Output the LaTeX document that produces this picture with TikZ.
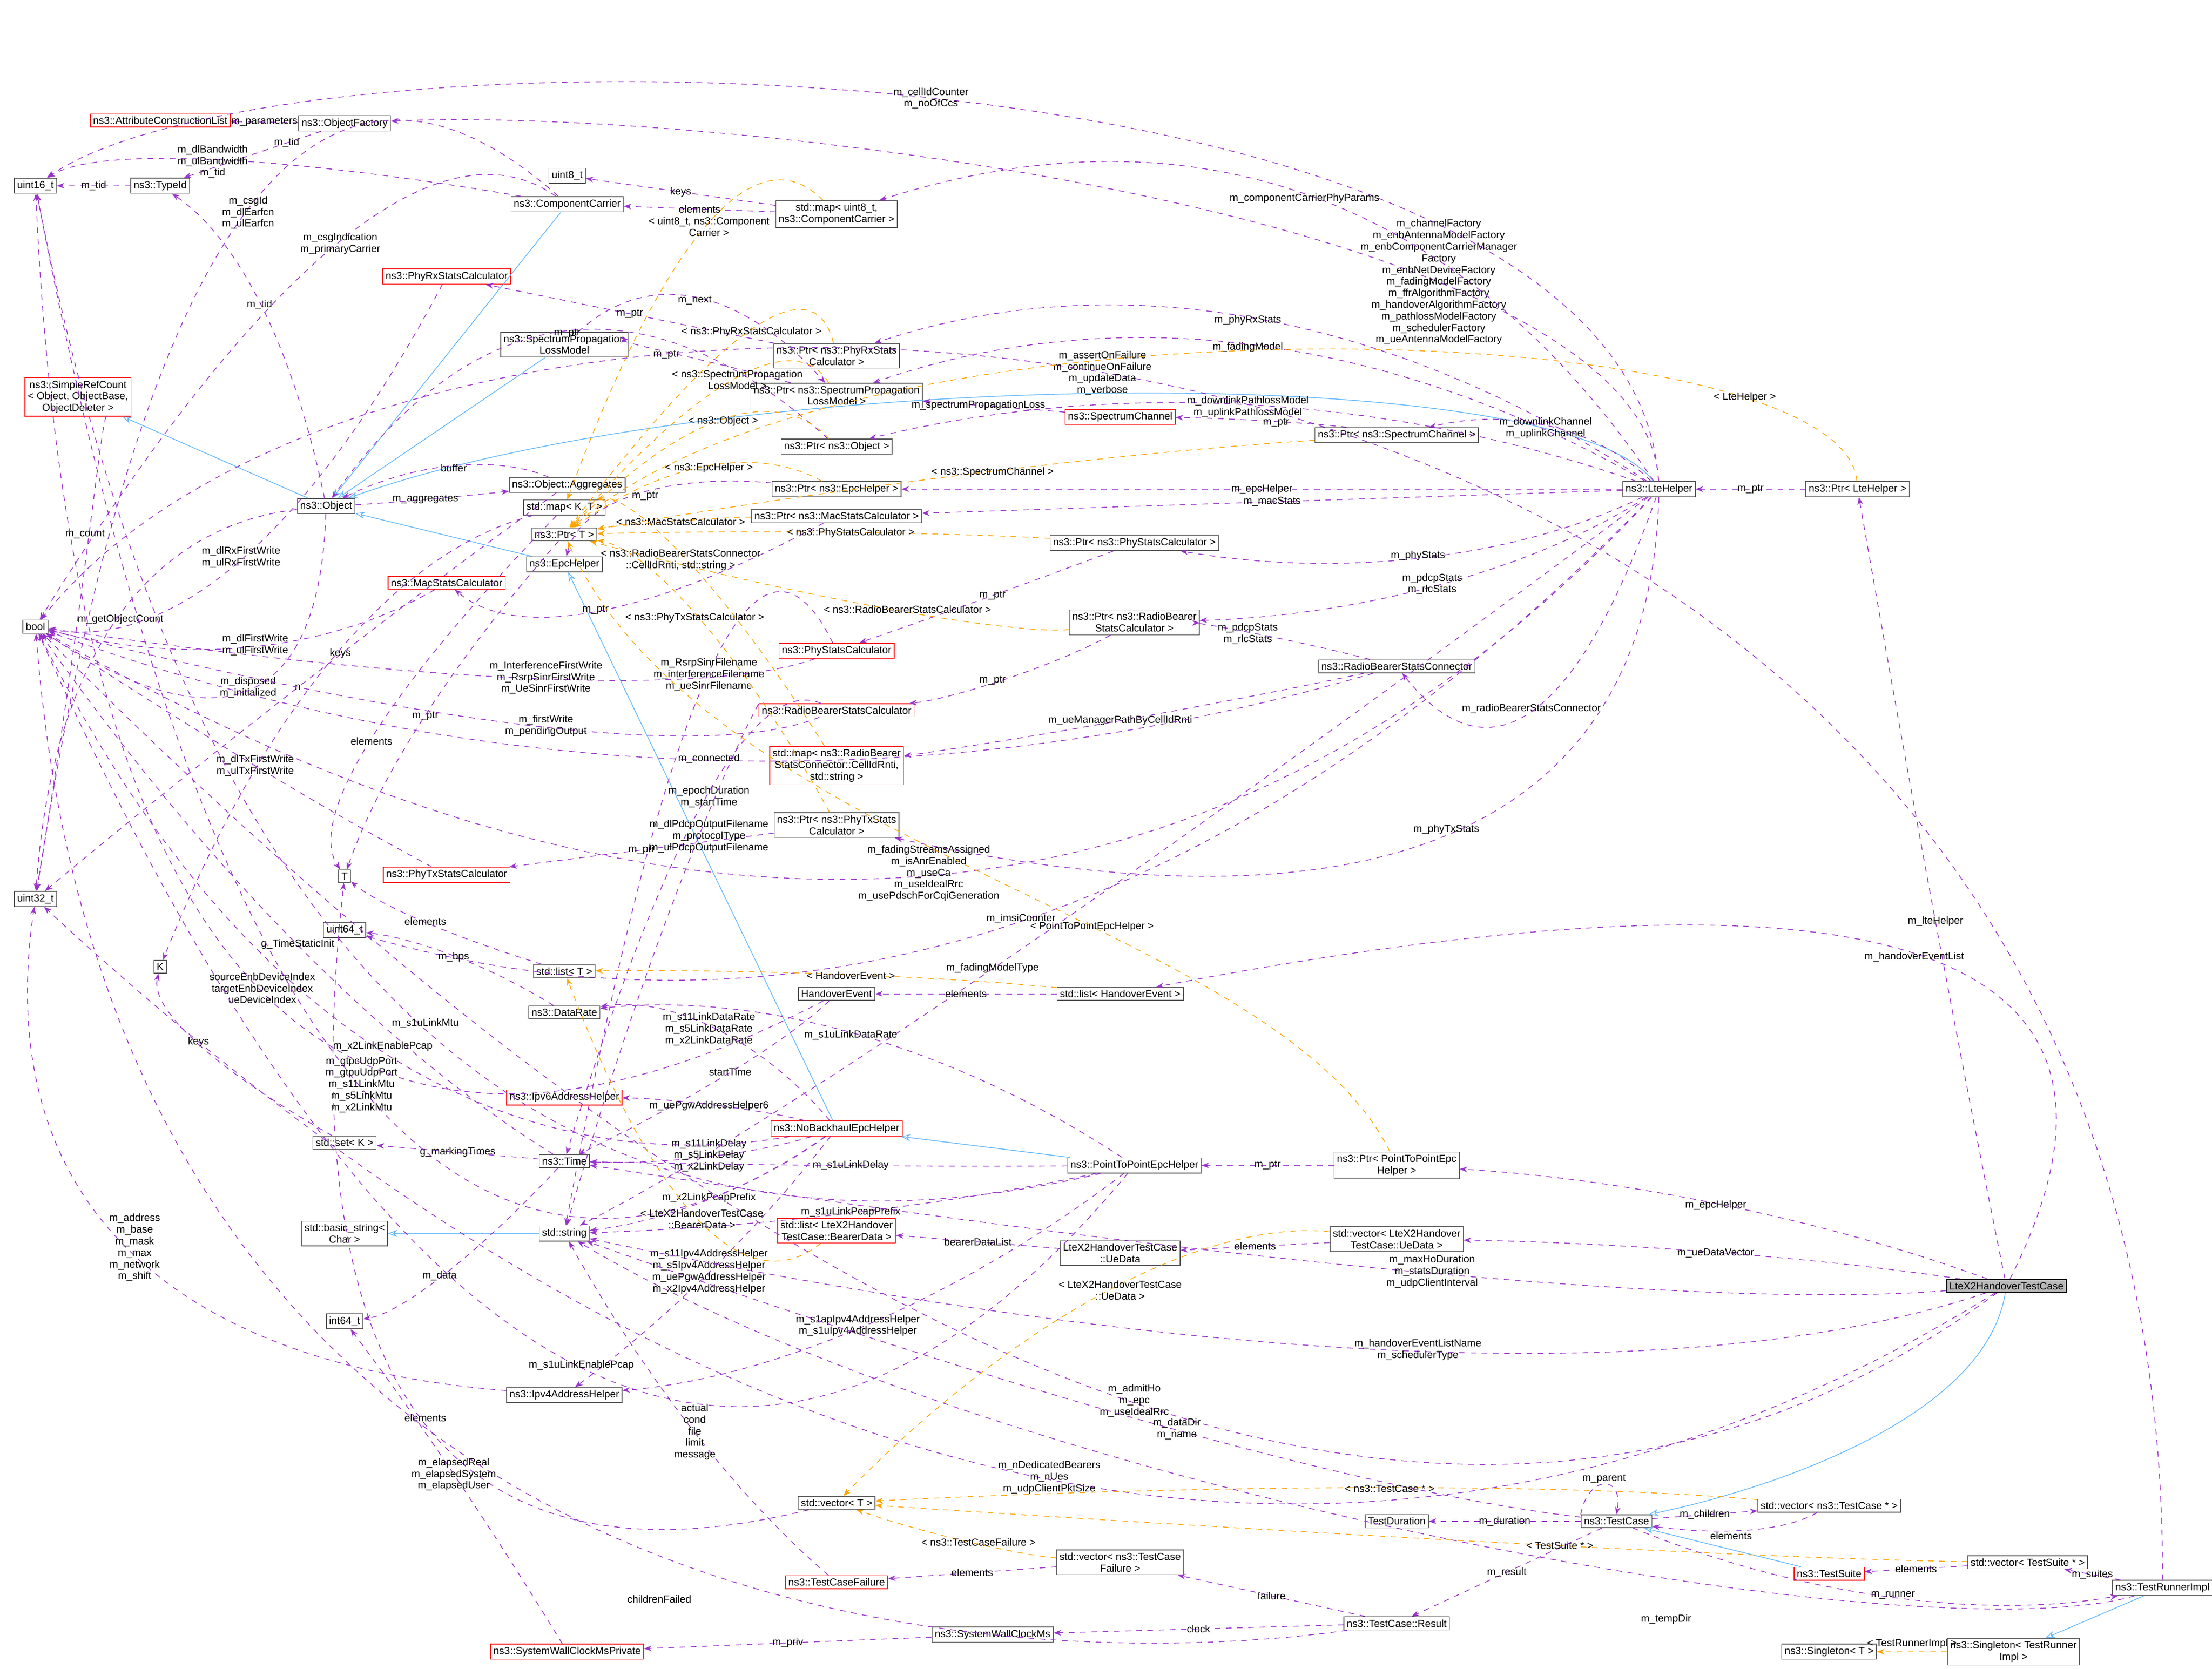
\documentclass[tikz,border=0pt]{standalone}
\usepackage{fontspec}
\setmainfont{Liberation Sans}
\usetikzlibrary{arrows.meta,calc}
\definecolor{usecol}{HTML}{9A32CD}
\definecolor{tplcol}{HTML}{FFA500}
\definecolor{inhcol}{HTML}{63B8FF}
\tikzset{
  cls/.style={draw=gray!70!black, rectangle, fill=white, inner sep=1.5pt, align=center, font=\fontsize{5.5}{6.2}\selectfont},
  redcls/.style={cls, draw=red},
  curcls/.style={cls, fill=gray!55, draw=black},
  use/.style={draw=usecol, dashed, -{Stealth[length=4pt]}},
  tpl/.style={draw=tplcol, dashed, -{Stealth[length=4pt]}},
  inh/.style={draw=inhcol, -{Stealth[length=5pt,open]}},
  lbl/.style={font=\fontsize{5.5}{6.2}\selectfont, align=center, inner sep=0.5pt, text=black}
}
\newcommand{\usel}[3]{\draw[use] (#1) -- node[lbl,midway] {#3} (#2);}
% edge bent through a given label point
\newcommand{\usec}[4]{\draw[use] (#1) .. controls ($1.3333*(#3)-0.3333*(#2)$) and ($1.3333*(#3)-0.3333*(#1)$) .. (#2); \node[lbl] at (#3) {#4};}
\newcommand{\tpll}[3]{\draw[tpl] (#1) -- node[lbl,midway] {#3} (#2);}
\newcommand{\tplc}[4]{\draw[tpl] (#1) .. controls ($1.3333*(#3)-0.3333*(#2)$) and ($1.3333*(#3)-0.3333*(#1)$) .. (#2); \node[lbl] at (#3) {#4};}
\begin{document}
\begin{tikzpicture}[x=0.02667cm, y=-0.02667cm]
  \useasboundingbox[fill=white] (0,0) rectangle (1560,1177);
  % classes
  \node[cls] (u16) at (25,131) {uint16\_t};
  \node[cls] (typeid) at (113,131) {ns3::TypeId};
  \node[redcls] (acl) at (113,85) {ns3::AttributeConstructionList};
  \node[cls] (objfac) at (243,87) {ns3::ObjectFactory};
  \node[cls] (u8) at (400,124) {uint8\_t};
  \node[cls] (cc) at (400,144) {ns3::ComponentCarrier};
  \node[cls] (mapcc) at (590,151) {std::map\textless{} uint8\_t,\\ ns3::ComponentCarrier \textgreater};
  \node[redcls] (phyrx) at (315,195) {ns3::PhyRxStatsCalculator};
  \node[cls] (splm) at (398,243) {ns3::SpectrumPropagation\\LossModel};
  \node[cls] (ptrphyrx) at (590,251) {ns3::Ptr\textless{} ns3::PhyRxStats\\Calculator \textgreater};
  \node[cls] (ptrsplm) at (590,279) {ns3::Ptr\textless{} ns3::SpectrumPropagation\\LossModel \textgreater};
  \node[redcls] (spch) at (790,294) {ns3::SpectrumChannel};
  \node[cls] (ptrobj) at (590,315) {ns3::Ptr\textless{} ns3::Object \textgreater};
  \node[cls] (ptrspch) at (985,307) {ns3::Ptr\textless{} ns3::SpectrumChannel \textgreater};
  \node[redcls] (src) at (55,280) {ns3::SimpleRefCount\\\textless{} Object, ObjectBase,\\ ObjectDeleter \textgreater};
  \node[cls] (obj) at (230,357) {ns3::Object};
  \node[cls] (aggr) at (400,342) {ns3::Object::Aggregates};
  \node[cls] (mapkt) at (398,358) {std::map\textless{} K, T \textgreater};
  \node[cls] (ptrt) at (398,377) {ns3::Ptr\textless{} T \textgreater};
  \node[cls] (epc) at (398,398) {ns3::EpcHelper};
  \node[cls] (ptrepc) at (590,345) {ns3::Ptr\textless{} ns3::EpcHelper \textgreater};
  \node[cls] (ptrmac) at (590,364) {ns3::Ptr\textless{} ns3::MacStatsCalculator \textgreater};
  \node[cls] (ptrphys) at (800,383) {ns3::Ptr\textless{} ns3::PhyStatsCalculator \textgreater};
  \node[cls] (lte) at (1170,345) {ns3::LteHelper};
  \node[cls] (ptrlte) at (1310,345) {ns3::Ptr\textless{} LteHelper \textgreater};
  \node[redcls] (mac) at (315,411) {ns3::MacStatsCalculator};
  \node[cls] (ptrrbs) at (800,439) {ns3::Ptr\textless{} ns3::RadioBearer\\StatsCalculator \textgreater};
  \node[cls] (rbscon) at (985,470) {ns3::RadioBearerStatsConnector};
  \node[redcls] (phys) at (590,459) {ns3::PhyStatsCalculator};
  \node[redcls] (rbs) at (590,501) {ns3::RadioBearerStatsCalculator};
  \node[redcls] (maprb) at (590,540) {std::map\textless{} ns3::RadioBearer\\StatsConnector::CellIdRnti,\\ std::string \textgreater};
  \node[cls] (ptrphytx) at (590,582) {ns3::Ptr\textless{} ns3::PhyTxStats\\Calculator \textgreater};
  \node[cls] (bool) at (25,442) {bool};
  \node[cls] (u32) at (25,634) {uint32\_t};
  \node[redcls] (phytx) at (315,617) {ns3::PhyTxStatsCalculator};
  \node[cls] (t) at (243,618) {T};
  \node[cls] (u64) at (243,656) {uint64\_t};
  \node[cls] (k) at (113,682) {K};
  \node[cls] (listt) at (398,685) {std::list\textless{} T \textgreater};
  \node[cls] (listhe) at (790,701) {std::list\textless{} HandoverEvent \textgreater};
  \node[cls] (he) at (590,701) {HandoverEvent};
  \node[cls] (dr) at (398,714) {ns3::DataRate};
  \node[redcls] (ipv6) at (398,774) {ns3::Ipv6AddressHelper};
  \node[redcls] (nbh) at (590,796) {ns3::NoBackhaulEpcHelper};
  \node[cls] (time) at (398,819) {ns3::Time};
  \node[cls] (setk) at (243,806) {std::set\textless{} K \textgreater};
  \node[cls] (p2p) at (800,822) {ns3::PointToPointEpcHelper};
  \node[cls] (ptrp2p) at (985,822) {ns3::Ptr\textless{} PointToPointEpc\\Helper \textgreater};
  \node[cls] (bstr) at (243,870) {std::basic\_string\textless\\ Char \textgreater};
  \node[cls] (str) at (398,870) {std::string};
  \node[redcls] (listbd) at (590,868) {std::list\textless{} LteX2Handover\\TestCase::BearerData \textgreater};
  \node[cls] (uedata) at (790,884) {LteX2HandoverTestCase\\::UeData};
  \node[cls] (vecue) at (985,874) {std::vector\textless{} LteX2Handover\\TestCase::UeData \textgreater};
  \node[curcls] (x2) at (1415,907) {LteX2HandoverTestCase};
  \node[cls] (i64) at (243,932) {int64\_t};
  \node[cls] (ipv4) at (398,984) {ns3::Ipv4AddressHelper};
  \node[cls] (vect) at (590,1060) {std::vector\textless{} T \textgreater};
  \node[redcls] (tcf) at (590,1116) {ns3::TestCaseFailure};
  \node[cls] (vectcf) at (790,1102) {std::vector\textless{} ns3::TestCase\\Failure \textgreater};
  \node[cls] (swc) at (700,1153) {ns3::SystemWallClockMs};
  \node[redcls] (swcp) at (400,1165) {ns3::SystemWallClockMsPrivate};
  \node[cls] (result) at (985,1145) {ns3::TestCase::Result};
  \node[cls] (tdur) at (985,1073) {TestDuration};
  \node[cls] (tc) at (1140,1073) {ns3::TestCase};
  \node[cls] (vectc) at (1290,1062) {std::vector\textless{} ns3::TestCase * \textgreater};
  \node[redcls] (ts) at (1290,1110) {ns3::TestSuite};
  \node[cls] (vects) at (1430,1102) {std::vector\textless{} TestSuite * \textgreater};
  \node[cls] (tri) at (1525,1120) {ns3::TestRunnerImpl};
  \node[cls] (sgtri) at (1420,1165) {ns3::Singleton\textless{} TestRunner\\Impl \textgreater};
  \node[cls] (sgt) at (1290,1165) {ns3::Singleton\textless{} T \textgreater};
  % inheritance
  \draw[inh] (obj) -- (src);
  \draw[inh] (cc) -- (obj);
  \draw[inh] (splm) -- (obj);
  \draw[inh] (lte) .. controls (1100,250) and (500,260) .. (obj);
  \draw[inh] (epc) -- (obj);
  \draw[inh] (nbh) -- (epc);
  \draw[inh] (p2p) -- (nbh);
  \draw[inh] (str) -- (bstr);
  \draw[inh] (x2) .. controls (1400,1000) and (1250,1050) .. (tc);
  \draw[inh] (ts) -- (tc);
  \draw[inh] (tri) -- (sgtri);
  % usage
  \usel{typeid}{u16}{m\_tid}
  \usel{objfac}{acl}{m\_parameters}
  \draw[use] (objfac) -- node[lbl,pos=0.25] {m\_tid} (typeid);
  \usec{cc}{u16}{150,114}{m\_dlBandwidth\\m\_ulBandwidth\\m\_tid}
  \usec{cc}{u32}{175,150}{m\_csgId\\m\_dlEarfcn\\m\_ulEarfcn}
  \usec{cc}{bool}{240,172}{m\_csgIndication\\m\_primaryCarrier}
  \usel{mapcc}{u8}{keys}
  \usel{mapcc}{cc}{elements}
  \usel{ptrphyrx}{phyrx}{m\_ptr}
  \usec{splm}{ptrsplm}{490,212}{m\_next}
  \usec{ptrsplm}{splm}{470,250}{m\_ptr}
  \usec{spch}{ptrsplm}{690,286}{m\_spectrumPropagationLoss}
  \usec{ptrspch}{spch}{900,298}{m\_ptr}
  \usec{ptrobj}{obj}{400,235}{m\_ptr}
  \usec{obj}{aggr}{300,352}{m\_aggregates}
  \usec{aggr}{obj}{320,330}{buffer}
  \usec{aggr}{u32}{210,485}{n}
  \usec{obj}{bool}{175,485}{m\_disposed\\m\_initialized}
  \usec{obj}{typeid}{183,215}{m\_tid}
  \usec{obj}{u32}{85,437}{m\_getObjectCount}
  \usec{src}{u32}{60,377}{m\_count}
  \usec{mapkt}{k}{240,461}{keys}
  \usec{mapkt}{t}{262,523}{elements}
  \usec{ptrt}{t}{300,505}{m\_ptr}
  \usec{ptrepc}{epc}{455,350}{m\_ptr}
  \usec{ptrmac}{mac}{420,430}{m\_ptr}
  \usec{ptrphys}{phys}{700,420}{m\_ptr}
  \usec{ptrrbs}{rbs}{700,480}{m\_ptr}
  \usec{rbscon}{ptrrbs}{880,447}{m\_pdcpStats\\m\_rlcStats}
  \usec{rbscon}{maprb}{790,508}{m\_ueManagerPathByCellIdRnti}
  \usec{rbscon}{bool}{500,535}{m\_connected}
  \usel{ptrphytx}{phytx}{m\_ptr}
  \usec{phyrx}{bool}{170,393}{m\_dlRxFirstWrite\\m\_ulRxFirstWrite}
  \usec{mac}{bool}{180,455}{m\_dlFirstWrite\\m\_ulFirstWrite}
  \usec{phytx}{bool}{180,540}{m\_dlTxFirstWrite\\m\_ulTxFirstWrite}
  \usec{phys}{bool}{385,478}{m\_InterferenceFirstWrite\\m\_RsrpSinrFirstWrite\\m\_UeSinrFirstWrite}
  \usec{phys}{str}{500,476}{m\_RsrpSinrFilename\\m\_interferenceFilename\\m\_ueSinrFilename}
  \usec{rbs}{bool}{385,512}{m\_firstWrite\\m\_pendingOutput}
  \usec{rbs}{time}{500,562}{m\_epochDuration\\m\_startTime}
  \usec{rbs}{str}{500,590}{m\_dlPdcpOutputFilename\\m\_protocolType\\m\_ulPdcpOutputFilename}
  \draw[use] (lte) .. controls (1150,20) and (200,10) .. node[lbl,pos=0.5] {m\_cellIdCounter\\m\_noOfCcs} (u16);
  \draw[use] (lte) .. controls (1160,150) and (500,75) .. node[lbl,pos=0.3] {m\_channelFactory\\m\_enbAntennaModelFactory\\m\_enbComponentCarrierManager\\Factory\\m\_enbNetDeviceFactory\\m\_fadingModelFactory\\m\_ffrAlgorithmFactory\\m\_handoverAlgorithmFactory\\m\_pathlossModelFactory\\m\_schedulerFactory\\m\_ueAntennaModelFactory} (objfac);
  \usec{lte}{mapcc}{920,140}{m\_componentCarrierPhyParams}
  \usec{lte}{ptrphyrx}{880,226}{m\_phyRxStats}
  \usec{lte}{ptrsplm}{880,245}{m\_fadingModel}
  \usec{lte}{ptrobj}{880,287}{m\_downlinkPathlossModel\\m\_uplinkPathlossModel}
  \usec{lte}{ptrspch}{1090,302}{m\_downlinkChannel\\m\_uplinkChannel}
  \usel{lte}{ptrepc}{m\_epcHelper}
  \usel{lte}{ptrmac}{m\_macStats}
  \usec{lte}{ptrphys}{1000,392}{m\_phyStats}
  \usec{lte}{ptrrbs}{1010,412}{m\_pdcpStats\\m\_rlcStats}
  \usec{lte}{rbscon}{1080,500}{m\_radioBearerStatsConnector}
  \usec{lte}{ptrphytx}{1020,585}{m\_phyTxStats}
  \usec{lte}{bool}{655,616}{m\_fadingStreamsAssigned\\m\_isAnrEnabled\\m\_useCa\\m\_useIdealRrc\\m\_usePdschForCqiGeneration}
  \usec{lte}{u64}{720,648}{m\_imsiCounter}
  \usec{lte}{str}{700,683}{m\_fadingModelType}
  \usel{ptrlte}{lte}{m\_ptr}
  \usec{listt}{t}{300,650}{elements}
  \usel{listhe}{he}{elements}
  \usec{he}{u16}{185,697}{sourceEnbDeviceIndex\\targetEnbDeviceIndex\\ueDeviceIndex}
  \usec{he}{time}{515,756}{startTime}
  \usec{dr}{u64}{320,675}{m\_bps}
  \usel{time}{setk}{g\_markingTimes}
  \usec{time}{bool}{210,666}{g\_TimeStaticInit}
  \usec{time}{i64}{310,900}{m\_data}
  \usec{setk}{k}{140,735}{keys}
  \usec{nbh}{ipv6}{500,780}{m\_uePgwAddressHelper6}
  \usec{nbh}{time}{500,815}{m\_s11LinkDelay\\m\_s5LinkDelay\\m\_x2LinkDelay}
  \usec{nbh}{str}{500,845}{m\_x2LinkPcapPrefix}
  \usec{nbh}{dr}{500,726}{m\_s11LinkDataRate\\m\_s5LinkDataRate\\m\_x2LinkDataRate}
  \usec{nbh}{u16}{255,765}{m\_gtpcUdpPort\\m\_gtpuUdpPort\\m\_s11LinkMtu\\m\_s5LinkMtu\\m\_x2LinkMtu}
  \usec{nbh}{bool}{270,738}{m\_x2LinkEnablePcap}
  \usec{nbh}{ipv4}{500,897}{m\_s11Ipv4AddressHelper\\m\_s5Ipv4AddressHelper\\m\_uePgwAddressHelper\\m\_x2Ipv4AddressHelper}
  \usec{p2p}{dr}{600,730}{m\_s1uLinkDataRate}
  \usec{p2p}{time}{600,822}{m\_s1uLinkDelay}
  \usec{p2p}{str}{600,855}{m\_s1uLinkPcapPrefix}
  \usec{p2p}{u16}{300,722}{m\_s1uLinkMtu}
  \usec{p2p}{bool}{410,963}{m\_s1uLinkEnablePcap}
  \usec{p2p}{ipv4}{605,935}{m\_s1apIpv4AddressHelper\\m\_s1uIpv4AddressHelper}
  \usel{ptrp2p}{p2p}{m\_ptr}
  \usel{uedata}{listbd}{bearerDataList}
  \usel{vecue}{uedata}{elements}
  \usec{x2}{listhe}{1350,675}{m\_handoverEventList}
  \usec{x2}{ptrp2p}{1210,850}{m\_epcHelper}
  \usec{x2}{vecue}{1210,884}{m\_ueDataVector}
  \usec{x2}{str}{1000,952}{m\_handoverEventListName\\m\_schedulerType}
  \usec{x2}{time}{1010,897}{m\_maxHoDuration\\m\_statsDuration\\m\_udpClientInterval}
  \usec{x2}{bool}{800,988}{m\_admitHo\\m\_epc\\m\_useIdealRrc}
  \usec{x2}{u32}{740,1042}{m\_nDedicatedBearers\\m\_nUes\\m\_udpClientPktSize}
  \usec{x2}{ptrlte}{1365,650}{m\_lteHelper}
  \usec{ipv4}{u32}{95,880}{m\_address\\m\_base\\m\_mask\\m\_max\\m\_network\\m\_shift}
  \usec{vect}{t}{300,1000}{elements}
  \usec{tcf}{str}{490,1010}{actual\\cond\\file\\limit\\message}
  \usel{vectcf}{tcf}{elements}
  \usel{result}{vectcf}{failure}
  \usel{result}{swc}{clock}
  \draw[use] (result) .. controls (700,1185) and (80,1150) .. (bool);
  \node[lbl] at (465,1128) {childrenFailed};
  \usel{swc}{swcp}{m\_priv}
  \usec{swcp}{i64}{320,1040}{m\_elapsedReal\\m\_elapsedSystem\\m\_elapsedUser}
  \usel{tc}{tdur}{m\_duration}
  \usel{tc}{result}{m\_result}
  \draw[use] (tc.north west) .. controls (1120,1040) and (1145,1040) .. node[lbl,above] {m\_parent} (tc.north);
  \usel{tc}{vectc}{m\_children}
  \draw[use] (vectc) .. controls (1250,1085) and (1190,1080) .. node[lbl,below] {elements} (tc);
  \usec{tc}{str}{830,1008}{m\_dataDir\\m\_name}
  \usec{tc}{tri}{1335,1125}{m\_runner}
  \usel{vects}{ts}{elements}
  \usel{tri}{vects}{m\_suites}
  \draw[use] (tri) .. controls (1350,1170) and (700,1050) .. (str);
  \node[lbl] at (1175,1142) {m\_tempDir};
  \draw[use] (tri) .. controls (1530,150) and (300,95) .. node[lbl,pos=0.55] {m\_assertOnFailure\\m\_continueOnFailure\\m\_updateData\\m\_verbose} (bool);
  % templates
  \tplc{mapcc}{mapkt}{500,160}{\textless{} uint8\_t, ns3::Component\\Carrier \textgreater}
  \tplc{ptrphyrx}{ptrt}{530,234}{\textless{} ns3::PhyRxStatsCalculator \textgreater}
  \tplc{ptrsplm}{ptrt}{520,268}{\textless{} ns3::SpectrumPropagation\\LossModel \textgreater}
  \tplc{ptrobj}{ptrt}{510,297}{\textless{} ns3::Object \textgreater}
  \tplc{ptrspch}{ptrt}{700,333}{\textless{} ns3::SpectrumChannel \textgreater}
  \tplc{ptrepc}{ptrt}{500,330}{\textless{} ns3::EpcHelper \textgreater}
  \tplc{ptrmac}{ptrt}{480,368}{\textless{} ns3::MacStatsCalculator \textgreater}
  \tplc{ptrphys}{ptrt}{600,376}{\textless{} ns3::PhyStatsCalculator \textgreater}
  \tplc{ptrrbs}{ptrt}{640,430}{\textless{} ns3::RadioBearerStatsCalculator \textgreater}
  \tplc{ptrphytx}{ptrt}{490,436}{\textless{} ns3::PhyTxStatsCalculator \textgreater}
  \tplc{maprb}{mapkt}{480,395}{\textless{} ns3::RadioBearerStatsConnector\\::CellIdRnti, std::string \textgreater}
  \draw[tpl] (ptrlte) .. controls (1300,220) and (600,200) .. node[lbl,pos=0.2] {\textless{} LteHelper \textgreater} (ptrt);
  \draw[tpl] (ptrp2p) .. controls (900,650) and (500,600) .. node[lbl,pos=0.4] {\textless{} PointToPointEpcHelper \textgreater} (ptrt);
  \tplc{listhe}{listt}{600,688}{\textless{} HandoverEvent \textgreater}
  \tplc{listbd}{listt}{495,860}{\textless{} LteX2HandoverTestCase\\::BearerData \textgreater}
  \tplc{vecue}{vect}{790,910}{\textless{} LteX2HandoverTestCase\\::UeData \textgreater}
  \tplc{vectcf}{vect}{690,1088}{\textless{} ns3::TestCaseFailure \textgreater}
  \tplc{vectc}{vect}{980,1050}{\textless{} ns3::TestCase * \textgreater}
  \tplc{vects}{vect}{1100,1090}{\textless{} TestSuite * \textgreater}
  \draw[tpl] (sgtri) -- node[lbl,above=1pt] {\textless{} TestRunnerImpl \textgreater} (sgt);
\end{tikzpicture}
\end{document}
